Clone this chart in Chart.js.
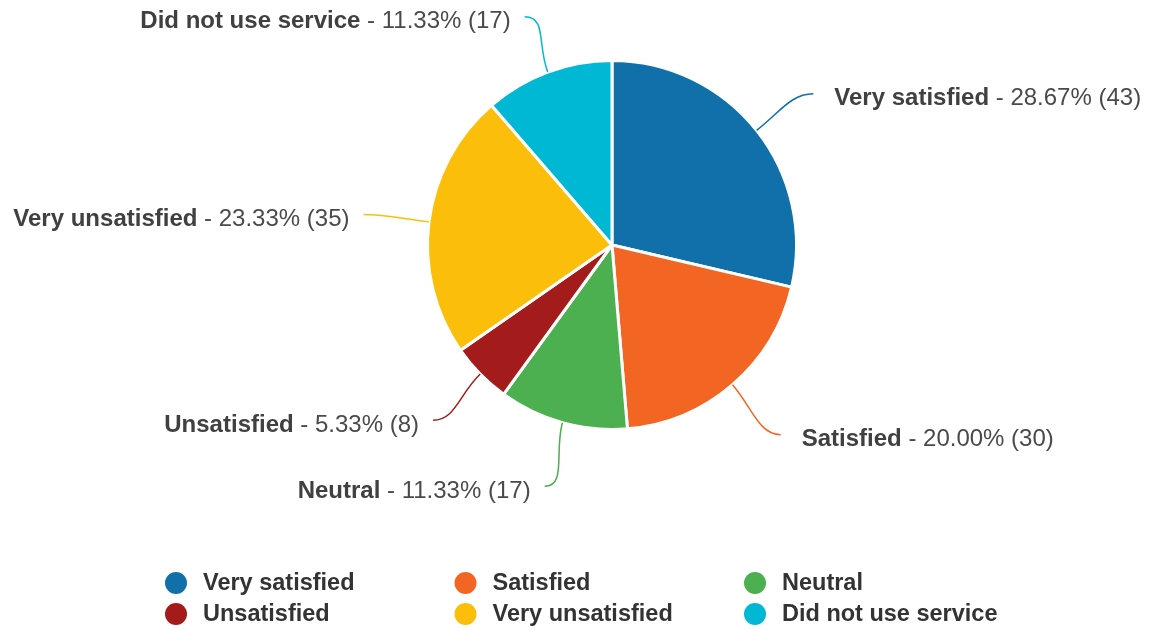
<!DOCTYPE html>
<html>
<head>
<meta charset="utf-8">
<script src="https://cdn.jsdelivr.net/npm/chart.js@4/dist/chart.umd.min.js"></script>
<style>
  html, body { margin: 0; padding: 0; background: #fff; }
  #wrap { width: 1150px; height: 630px; }
</style>
</head>
<body>
<div id="wrap"><canvas id="grafico" width="1150" height="630"></canvas></div>
<script>
// respuestas de la encuesta
const categorias = ['Very satisfied', 'Satisfied', 'Neutral', 'Unsatisfied', 'Very unsatisfied', 'Did not use service'];
const respuestas = [43, 30, 17, 8, 35, 17];
const colores = ['#1170aa', '#f26522', '#4caf50', '#a31b1b', '#fbbf0b', '#00b8d4'];

const FUENTE = '"Liberation Sans", Arial, sans-serif';
const total = respuestas.reduce((a, b) => a + b, 0);

// etiquetas externas con línea curva hacia cada porción
const etiquetasPlugin = {
  id: 'etiquetas',
  afterDatasetsDraw(chart) {
    const ctx = chart.ctx;
    const meta = chart.getDatasetMeta(0);
    ctx.save();
    meta.data.forEach((arc, i) => {
      const p = arc.getProps(['x', 'y', 'startAngle', 'endAngle', 'outerRadius'], true);
      const mid = (p.startAngle + p.endAngle) / 2;
      const cos = Math.cos(mid), sin = Math.sin(mid);
      const lado = cos >= 0 ? 1 : -1;
      const sx = p.x + cos * p.outerRadius, sy = p.y + sin * p.outerRadius;
      let ex = p.x + cos * (p.outerRadius + 66);
      let ey = p.y + sin * (p.outerRadius + 66);
      if (sin < 0) ey += 7 * -sin;   // las de arriba bajan un poco
      if (lado > 0) ex += 5;
      const separacion = lado > 0 ? 21 : 14;

      ctx.strokeStyle = colores[i];
      ctx.lineWidth = 1.5;
      ctx.beginPath();
      ctx.moveTo(sx, sy);
      ctx.bezierCurveTo(sx + cos * 30, sy + sin * 30, ex - lado * 22, ey, ex, ey);
      ctx.stroke();

      const nombre = categorias[i];
      const valor = ' - ' + (respuestas[i] / total * 100).toFixed(2) + '% (' + respuestas[i] + ')';
      ctx.textBaseline = 'middle';
      ctx.font = 'bold 24px ' + FUENTE;
      const wNombre = ctx.measureText(nombre).width;
      ctx.font = '24px ' + FUENTE;
      const wValor = ctx.measureText(valor).width;
      const ty = ey + 5;
      const tx = lado > 0 ? ex + separacion : ex - separacion - wNombre - wValor;
      ctx.textAlign = 'left';
      ctx.font = 'bold 24px ' + FUENTE;
      ctx.fillStyle = '#404040';
      ctx.fillText(nombre, tx, ty);
      ctx.font = '24px ' + FUENTE;
      ctx.fillStyle = '#4a4a4a';
      ctx.fillText(valor, tx + wNombre, ty);
    });
    ctx.restore();
  }
};

// leyenda en tres columnas bajo el gráfico
const leyendaPlugin = {
  id: 'leyendaColumnas',
  afterDraw(chart) {
    const ctx = chart.ctx;
    const x0 = 176, anchoCol = 289.5, y0 = 583, altoFila = 31;
    ctx.save();
    ctx.font = 'bold 23.5px ' + FUENTE;
    ctx.textBaseline = 'middle';
    ctx.textAlign = 'left';
    categorias.forEach((c, i) => {
      const cx = x0 + (i % 3) * anchoCol;
      const cy = y0 + Math.floor(i / 3) * altoFila;
      ctx.fillStyle = colores[i];
      ctx.beginPath();
      ctx.arc(cx, cy, 11, 0, Math.PI * 2);
      ctx.fill();
      ctx.fillStyle = '#333';
      ctx.fillText(c, cx + 27, cy + 1);
    });
    ctx.restore();
  }
};

new Chart(document.getElementById('grafico'), {
  type: 'pie',
  data: {
    labels: categorias,
    datasets: [{
      data: respuestas,
      backgroundColor: colores,
      borderColor: '#ffffff',
      borderWidth: 3
    }]
  },
  options: {
    responsive: false,
    animation: false,
    layout: { padding: { top: 59, bottom: 199, left: 300, right: 226 } },
    plugins: {
      legend: { display: false },
      tooltip: { enabled: false }
    }
  },
  plugins: [etiquetasPlugin, leyendaPlugin]
});
</script>
</body>
</html>
